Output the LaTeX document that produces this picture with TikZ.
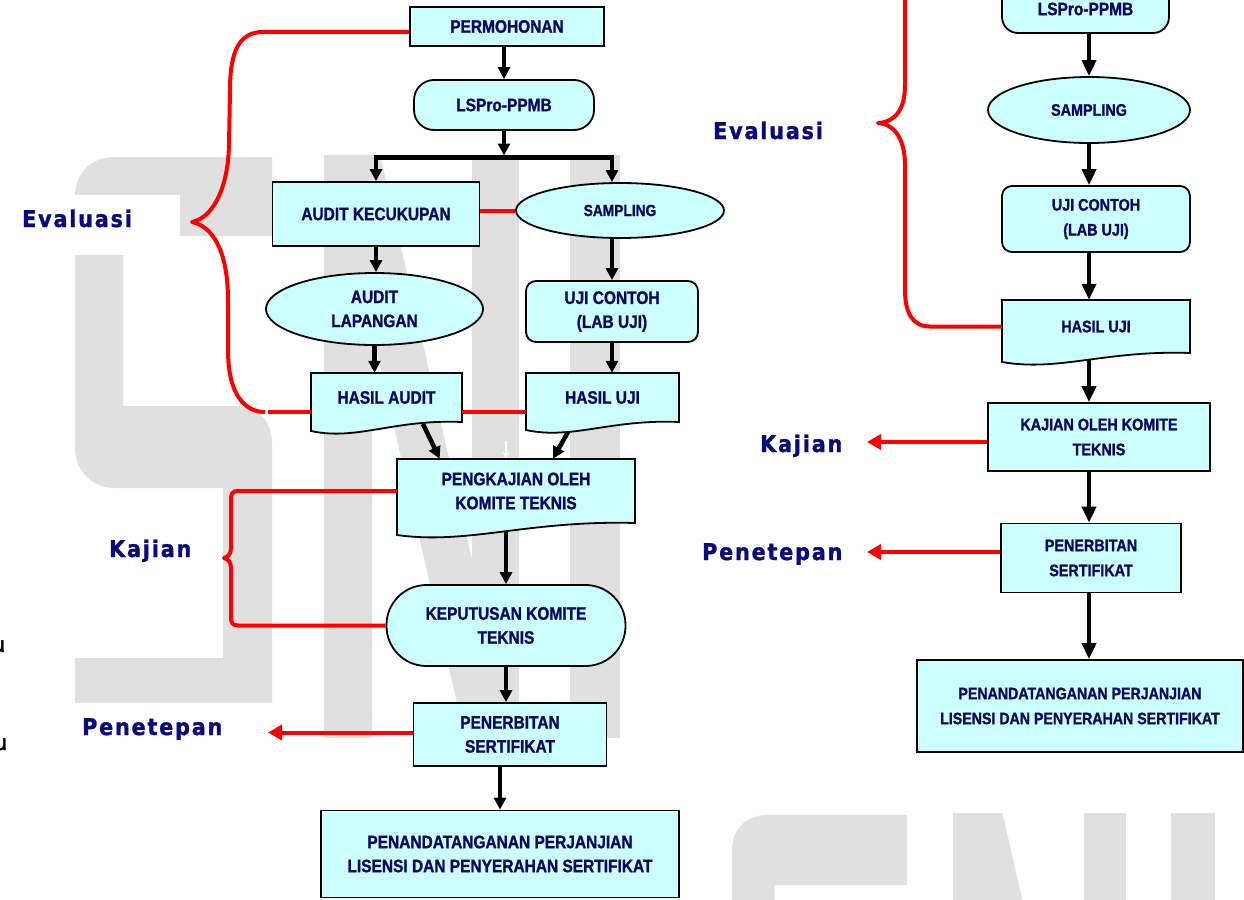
\documentclass[tikz,border=0pt]{standalone}
\usepackage{fontspec}
\newfontfamily\boxfont[FakeStretch=0.86,FakeBold=1.3]{Liberation Sans}
\newfontfamily\lblfont[LetterSpace=8,FakeStretch=0.9,FakeBold=1.4]{DejaVu Sans}
\newfontfamily\edgefont[FakeBold=2]{Liberation Sans}
\usetikzlibrary{shapes.geometric,arrows.meta,calc}
\definecolor{boxfill}{RGB}{204,255,255}
\definecolor{navy}{RGB}{8,8,100}
\definecolor{lblnavy}{RGB}{10,10,128}
\definecolor{wmgray}{RGB}{224,224,224}
\definecolor{redline}{RGB}{255,0,0}
\newcommand\wmletters{%
 \fill[wm] (75,197) .. controls (75,172) and (92,157) .. (115,157) -- (272,157) -- (272,236) -- (123,236) -- (123,406) -- (235,406) .. controls (258,406) and (272,420) .. (272,445) -- (272,738) -- (75,738) -- (75,658) -- (223,658) -- (223,488) -- (115,488) .. controls (92,488) and (75,470) .. (75,448) -- cycle;
 \fill[wm] (324,738) -- (324,155) -- (380,155) -- (472,560) -- (472,155) -- (519,155) -- (519,738) -- (465,738) -- (372,330) -- (372,738) -- cycle;
 \fill[wm] (570,155) rectangle (620,738);
}
\newcommand\docpath[5]{%
 \draw[docbox] (#2,#4) -- (#2,#3) -- (#1,#3) -- (#1,#5) .. controls ({#1+0.3*(#2-#1)},{#5+10}) and ({#1+0.55*(#2-#1)},{#4-3}) .. (#2,#4) -- cycle;
}
\begin{document}
\begin{tikzpicture}[x=1pt,y=-1pt,
  boxbase/.style={draw=black, line width=1.8pt, fill=boxfill, text=navy, align=center, inner sep=0pt},
  fL/.style={font=\boxfont\bfseries\fontsize{18}{24}\selectfont},
  fR/.style={font=\boxfont\bfseries\fontsize{16.7}{25}\selectfont},
  rbox/.style={boxbase, rectangle},
  ebox/.style={boxbase, ellipse},
  doctext/.style={rectangle, inner sep=0pt, text=navy, align=center},
  docbox/.style={draw=black, line width=1.8pt, fill=boxfill, line join=miter},
  arrL/.style={draw=black, line width=4.5pt, line join=miter, -{Triangle[length=12pt,width=12pt]}},
  arrR/.style={draw=black, line width=4.8pt, -{Triangle[length=16pt,width=14pt]}},
  redl/.style={draw=redline, line width=4pt, line join=round},
  reda/.style={redl, -{Triangle[length=14pt,width=15pt]}},
  lbl/.style={font=\lblfont\bfseries\fontsize{23}{23}\selectfont, text=lblnavy, anchor=base west, inner sep=0pt},
  wm/.style={fill=wmgray},
]
\useasboundingbox (0,0) rectangle (1244,899);
\fill[white] (0,0) rectangle (1244,899);
% watermark
\wmletters
\begin{scope}[shift={(665.5,675.7)}, scale=0.887]
\wmletters
\end{scope}
\fill[white] (0,195) rectangle (180,255);
\fill[white] (0,703) rectangle (276,760);

% ---------- left chart ----------
\node[rbox, fL, minimum width=194pt, minimum height=39pt] (perm) at (507,26.5) {PERMOHONAN};
\node[rbox, fL, rounded corners=20pt, minimum width=180pt, minimum height=50pt] (lsl) at (504,105) {LSPro-PPMB};
\node[rbox, fL, minimum width=207pt, minimum height=64pt] (akc) at (376,214) {AUDIT KECUKUPAN};
\node[ebox, font=\boxfont\bfseries\fontsize{16}{20}\selectfont, minimum width=208pt, minimum height=55pt] (sl) at (620,210.5) {SAMPLING};
\node[ebox, fL, minimum width=217pt, minimum height=72pt] (alap) at (374.5,309) {AUDIT\\LAPANGAN};
\node[rbox, fL, rounded corners=10pt, minimum width=172pt, minimum height=61pt] (ul) at (612,311.5) {UJI CONTOH\\(LAB UJI)};
\docpath{311}{462}{373}{422}{431}
\node[doctext, fL, minimum width=151pt, minimum height=49pt] (hal) at (386.5,397.5) {HASIL AUDIT};
\docpath{526}{679}{373}{422}{430}
\node[doctext, fL, minimum width=153pt, minimum height=49pt] (hul) at (602.5,397.5) {HASIL UJI};
\docpath{397}{635}{459}{523}{535}
\node[doctext, fL, minimum width=238pt, minimum height=64pt] (pk) at (516,491) {PENGKAJIAN OLEH\\KOMITE TEKNIS};
\node[rbox, fL, rounded corners=40pt, minimum width=239pt, minimum height=81pt] (kep) at (506,625.5) {KEPUTUSAN KOMITE\\TEKNIS};
\node[rbox, fL, minimum width=193pt, minimum height=63pt] (penl) at (510,734.5) {PENERBITAN\\SERTIFIKAT};
\node[rbox, fL, minimum width=358pt, minimum height=87pt] (pndl) at (500,854) {PENANDATANGANAN PERJANJIAN\\LISENSI DAN PENYERAHAN SERTIFIKAT};

% ---------- right chart ----------
\node[rbox, fL, rounded corners=16pt, minimum width=167pt, minimum height=48pt] (lsr) at (1085.5,9) {LSPro-PPMB};
\node[ebox, fR, minimum width=202pt, minimum height=66pt] (sr) at (1089,110) {SAMPLING};
\node[rbox, fR, rounded corners=10pt, minimum width=188pt, minimum height=66pt] (ur) at (1096,219) {UJI CONTOH\\(LAB UJI)};
\docpath{1002}{1190}{300}{353}{362}
\node[doctext, fR, minimum width=188pt, minimum height=53pt] (hr) at (1096,326.5) {HASIL UJI};
\node[rbox, fR, minimum width=222pt, minimum height=68pt] (kr) at (1099,437) {KAJIAN OLEH KOMITE\\TEKNIS};
\node[rbox, fR, minimum width=180pt, minimum height=69pt] (pr) at (1091,558) {PENERBITAN\\SERTIFIKAT};
\node[rbox, font=\boxfont\bfseries\fontsize{16.5}{25}\selectfont, minimum width=326pt, minimum height=92pt] (pdr) at (1080,706) {PENANDATANGANAN PERJANJIAN\\LISENSI DAN PENYERAHAN SERTIFIKAT};

% ---------- labels ----------
\node[lbl] (evl) at (22,227) {Evaluasi};
\node[lbl] (kajl) at (109,557) {Kajian};
\node[lbl] (penetl) at (82,735) {Penetepan};
\node[lbl] (evr) at (713,139) {Evaluasi};
\node[lbl] (kajr) at (760,452) {Kajian};
\node[lbl] (penetr) at (702,560) {Penetepan};
\node[anchor=base east, inner sep=0pt, font=\edgefont\fontsize{22}{22}\selectfont] (u1) at (5,652) {u};
\node[anchor=base east, inner sep=0pt, font=\edgefont\fontsize{22}{22}\selectfont] (u2) at (7,750) {u};

% ---------- coordinates ----------
\coordinate (jn) at (504,155.5);
\coordinate (jb) at (504,157.5);
\coordinate (halo) at (423,424);
\coordinate (hulo) at (568,432);
\coordinate (pko) at (506,531);
\coordinate (hro) at (1089,360);
\coordinate (penetltip) at (268,732.5);
\coordinate (kajrtip) at (867,442);
\coordinate (penetrtip) at (867,552);
\coordinate (wa1) at (506,441);
\coordinate (wa2) at (506,458);

% ---------- left black arrows ----------
\draw[arrL] (perm.south -| lsl.north) -- (lsl.north);
\draw[arrL] (lsl.south) -- (lsl.south |- jn);
\draw[arrL] (jb) -| (akc.north);
\draw[arrL] (jb) -| (sl.north -| ul.north);
\draw[arrL] (akc.south) -- (akc.south |- alap.north);
\draw[arrL] (sl.south -| ul.north) -- (ul.north);
\draw[arrL] (alap.south) -- (alap.south |- hal.north);
\draw[arrL] (ul.south) -- (ul.south |- hul.north);
\draw[arrL] (halo) -- ($(pk.north west)!0.18!(pk.north east)$);
\draw[arrL] (hulo) -- ($(pk.north west)!0.655!(pk.north east)$);
\draw[arrL] (pko) -- (pko |- kep.north);
\draw[arrL] (kep.south) -- (kep.south |- penl.north);
\draw[arrL] (penl.south -| pndl.north) -- (pndl.north);
\draw[white, line width=1.3pt, -{Stealth[length=6pt,width=7pt]}] (wa1) -- (wa2);

% ---------- left red ----------
\draw[redl] (akc.east |- sl.west) -- (sl.west);
\draw[redl] ($(hal.east)+(0,14.5)$) -- ($(hul.west)+(0,14.5)$);
\draw[redl] ($(perm.west)+(0,5.5)$) -- (263,32) .. controls (240,32) and (230,50) .. (230,90) -- (229,145) .. controls (228,190) and (212,218) .. (192,222) .. controls (212,226) and (228,250) .. (228,300) -- (228,350) .. controls (228,395) and (245,412) .. (265,412);
\draw[redl] ($(hal.west)+(-43,14.5)$) -- ($(hal.west)+(0,14.5)$);
\draw[redl] (pk.west) -- (238,491) .. controls (232,491) and (231,494) .. (231,500) -- (231,548) .. controls (231,554) and (228,557) .. (224,558) .. controls (228,559) and (231,562) .. (231,568) -- (231,618) .. controls (231,623) and (233,625.5) .. (238,625.5) -- (kep.west);
\draw[reda] ($(penl.west)+(0,-2)$) -- (penetltip);

% ---------- right black arrows ----------
\draw[arrR] (lsr.south -| sr.north) -- (sr.north);
\draw[arrR] (sr.south) -- (sr.south |- ur.north);
\draw[arrR] (ur.south -| sr.south) -- (sr.south |- hr.north);
\draw[arrR] (hro) -- (hro |- kr.north);
\draw[arrR] (kr.south -| sr.south) -- (sr.south |- pr.north);
\draw[arrR] (pr.south -| sr.south) -- (sr.south |- pdr.north);

% ---------- right red ----------
\draw[redl] (hr.west) -- (930,326.5) .. controls (912,326.5) and (905,312) .. (905,290) -- (905,165) .. controls (905,140) and (895,124) .. (878,123) .. controls (895,122) and (905,110) .. (905,85) -- (905,-5);
\draw[reda] ($(kr.west)+(0,5)$) -- (kajrtip);
\draw[reda] ($(pr.west)+(0,-6)$) -- (penetrtip);
\end{tikzpicture}
\end{document}
